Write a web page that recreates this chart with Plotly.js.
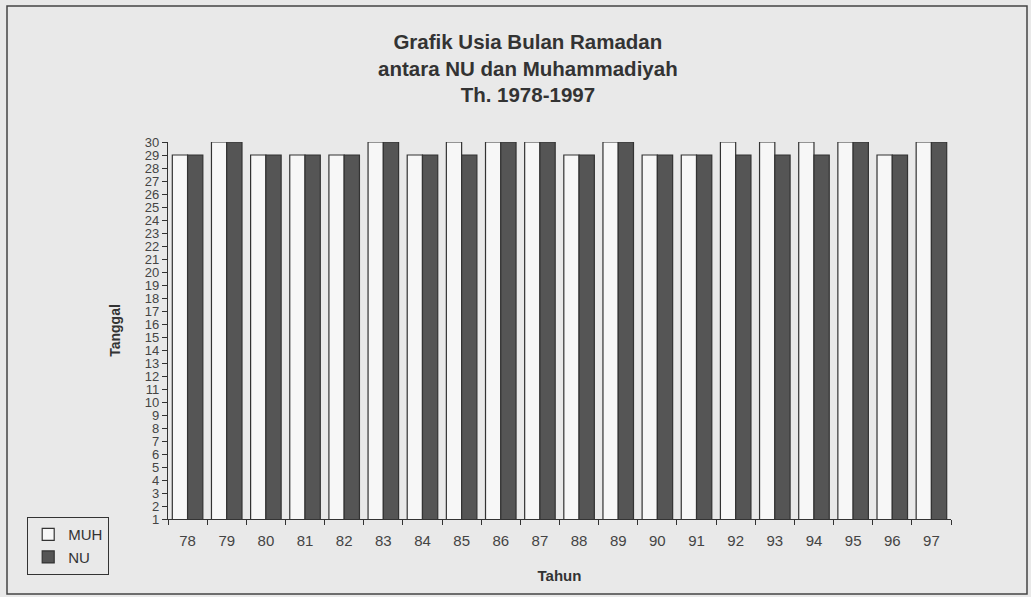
<!DOCTYPE html>
<html>
<head>
<meta charset="utf-8">
<script src="https://cdn.plot.ly/plotly-3.0.1.min.js"></script>
<style>html,body{margin:0;padding:0;background:#e9e9e9;}#chart{width:1031px;height:597px;}</style>
</head>
<body>
<div id="chart"></div>
<script>
const years = ["78","79","80","81","82","83","84","85","86","87","88","89","90","91","92","93","94","95","96","97"];
const muh = [29,30,29,29,29,30,29,30,30,30,29,30,29,29,30,30,30,30,29,30];
const nu  = [29,30,29,29,29,30,29,29,30,30,29,30,29,29,29,29,29,30,29,30];
const yTicks = [1,2,3,4,5,6,7,8,9,10,11,12,13,14,15,16,17,18,19,20,21,22,23,24,25,26,27,28,29,30];

const L = 168, R = 951, T = 142, B = 519, W = 1031, H = 597;
const px = x => (x - L) / (R - L);
const py = y => (B - y) / (B - T);

const traces = [
  {type:'bar', name:'MUH', x:years, y:muh, base:0,
   marker:{color:'#f7f7f7', line:{color:'#333', width:1.2}}},
  {type:'bar', name:'NU', x:years, y:nu, base:0,
   marker:{color:'#555555', line:{color:'#333', width:1.2}}}
];

const layout = {
  width:W, height:H,
  margin:{l:L, r:W-R, t:T, b:H-B, pad:0},
  paper_bgcolor:'#e9e9e9', plot_bgcolor:'rgba(0,0,0,0)',
  font:{family:'Liberation Sans, Arial, sans-serif', color:'#333'},
  barmode:'group', bargap:0.22, bargroupgap:0,
  title:{text:'<b>Grafik Usia Bulan Ramadan<br>antara NU dan Muhammadiyah<br>Th. 1978-1997</b>',
         x:0.512, xanchor:'center', y:1-49/H, yanchor:'top', yref:'container',
         font:{size:20.5, color:'#333'}},
  xaxis:{type:'category', tickson:'boundaries', ticks:'outside', ticklen:5, tickcolor:'#333',
         showline:true, linecolor:'#333', linewidth:1.2, showgrid:false, zeroline:false,
         tickfont:{size:15, color:'#444'}, ticklabelstandoff:8,
         title:{text:'<b>Tahun</b>', font:{size:15, color:'#333'}, standoff:22}},
  yaxis:{range:[1,30], tickvals:yTicks, ticktext:yTicks.map(String), ticks:'outside', ticklen:5,
         tickcolor:'#333', showline:true, linecolor:'#333', linewidth:1.2, showgrid:false,
         zeroline:false, tickfont:{size:13, color:'#444'},
         title:{text:'<b>Tanggal</b>', font:{size:14, color:'#333'}, standoff:20}},
  legend:{x:px(27), xanchor:'left', y:py(517), yanchor:'top', bgcolor:'rgba(0,0,0,0)',
          bordercolor:'#333', borderwidth:1.2, font:{size:15, color:'#333'},
          tracegroupgap:0, itemwidth:30},
  shapes:[{type:'rect', xref:'paper', yref:'paper', x0:px(7), x1:px(1027), y0:py(594), y1:py(6),
           line:{color:'#444', width:1.5}, fillcolor:'rgba(0,0,0,0)', layer:'below'}],
  showlegend:true
};

Plotly.newPlot('chart', traces, layout, {displayModeBar:false, staticPlot:true});
</script>
</body>
</html>
